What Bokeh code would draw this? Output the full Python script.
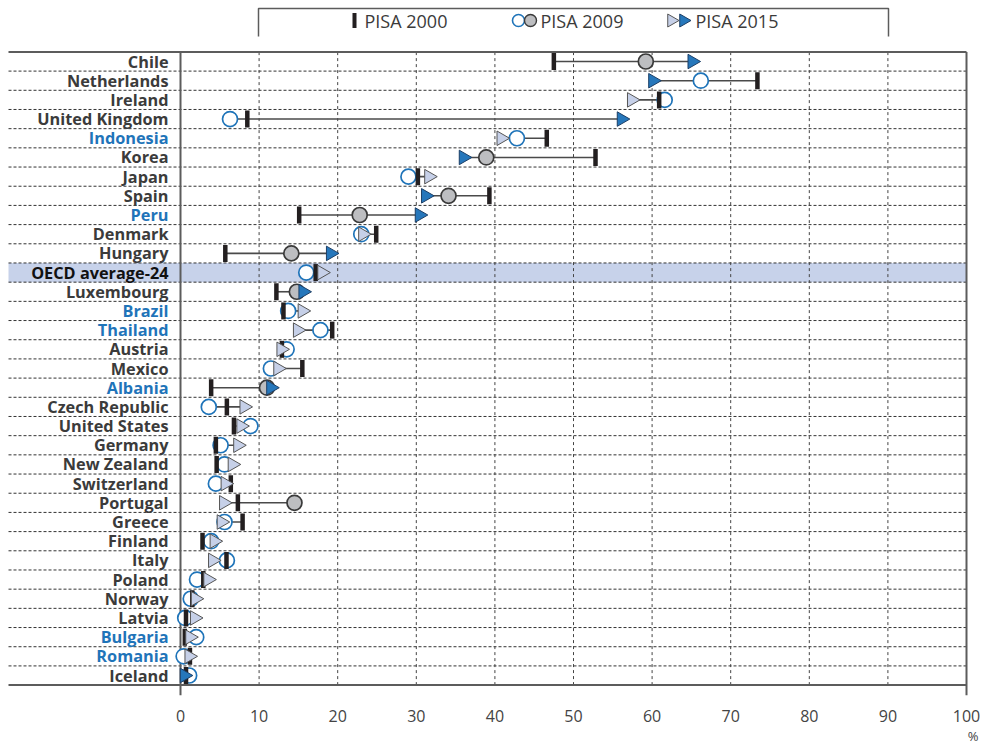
import numpy as np
from bokeh.plotting import figure
from bokeh.models import ColumnDataSource, Title
from bokeh.core.properties import value
from bokeh.embed import file_html
from bokeh.resources import INLINE

# --- data -------------------------------------------------------------------
countries = [
    "Chile", "Netherlands", "Ireland", "United Kingdom", "Indonesia", "Korea",
    "Japan", "Spain", "Peru", "Denmark", "Hungary", "OECD average-24",
    "Luxembourg", "Brazil", "Thailand", "Austria", "Mexico", "Albania",
    "Czech Republic", "United States", "Germany", "New Zealand", "Switzerland",
    "Portugal", "Greece", "Finland", "Italy", "Poland", "Norway", "Latvia",
    "Bulgaria", "Romania", "Iceland",
]
pisa2000 = [47.5, 73.4, 60.9, 8.5, 46.6, 52.8, 30.2, 39.3, 15.1, 24.9, 5.7, 17.2,
            12.2, 13.1, 19.3, 12.9, 15.5, 3.9, 5.9, 6.8, 4.5, 4.6, 6.4,
            7.3, 7.9, 2.8, 5.85, 2.9, 1.5, 0.7, 0.55, 1.2, 0.7]
pisa2009 = [59.2, 66.2, 61.6, 6.3, 42.8, 38.9, 29.0, 34.1, 22.8, 23.0, 14.1, 16.0,
            14.8, 13.7, 17.8, 13.5, 11.5, 11.0, 3.6, 8.9, 5.1, 5.6, 4.5,
            14.5, 5.6, 3.9, 5.9, 2.1, 1.3, 0.6, 2.0, 0.4, 1.1]
pisa2015 = [65.1, 60.1, 57.4, 56.1, 40.8, 36.0, 31.6, 31.2, 30.4, 23.2, 19.1, 18.0,
            15.6, 15.5, 14.9, 12.8, 12.4, 11.5, 8.1, 7.7, 7.3, 6.6, 5.7,
            5.5, 5.2, 4.3, 4.1, 3.5, 1.9, 1.8, 1.2, 1.1, 0.5]
# 1 = difference with PISA 2000 is statistically significant
sig2009 = [1, 0, 0, 0, 0, 1, 0, 1, 1, 0, 1, 0, 1, 0, 0, 0, 0, 1, 0, 0, 0, 0, 0,
           1, 0, 0, 0, 0, 0, 0, 0, 0, 0]
sig2015 = [1, 1, 0, 1, 0, 1, 0, 1, 1, 0, 1, 0, 1, 0, 0, 0, 0, 1, 0, 0, 0, 0, 0,
           0, 0, 0, 0, 0, 0, 0, 0, 0, 1]
partners = ["Indonesia", "Peru", "Brazil", "Thailand", "Albania", "Bulgaria", "Romania"]
average_row = "OECD average-24"
x_ticks = [0, 10, 20, 30, 40, 50, 60, 70, 80, 90, 100]
legend_labels = ["PISA 2000", "PISA 2009", "PISA 2015"]

# --- page geometry (pixels) ---------------------------------------------------
W, H, FRAME_H = 989, 745, 695
PX0, PX100 = 180.0, 966.0
SCALE = (PX100 - PX0) / 100.0
ROW0, ROW_STEP = 61.0, 19.1875
n = len(countries)


def dx(px):
    return (px - PX0) / SCALE


def dy(py):
    return (n - 1) - (py - ROW0) / ROW_STEP


ys = [n - 1 - i for i in range(n)]
x_left = dx(8)

# --- colours & fonts ------------------------------------------------------------
INK = "#3b3b3b"
FRAME = "#5c5c5c"
BLUE = "#1f74b9"
DARK_TRI = "#2677bb"
LIGHT_TRI = "#c6d0e8"
GREY_DOT = "#bdbec1"
BAR = "#231f20"
BAND = "#c7d2ea"
FONT = "Open Sans"

p = figure(width=W, height=H, x_range=(dx(0), dx(W)), y_range=(dy(FRAME_H), dy(0)),
           output_backend="svg", toolbar_location=None, y_axis_location=None,
           min_border_left=0, min_border_right=0, min_border_top=0,
           min_border_bottom=H - FRAME_H, outline_line_color=None,
           background_fill_color="white", border_fill_color="white")
p.xgrid.grid_line_color = None
p.ygrid.grid_line_color = None

# highlighted average row
y_avg = ys[countries.index(average_row)]
p.quad(left=x_left, right=100, bottom=y_avg - 0.5, top=y_avg + 0.5,
       fill_color=BAND, line_color=None)

# row separators
seps = [k + 0.5 for k in range(n - 1)]
p.segment(x0=[x_left] * len(seps), x1=[100] * len(seps), y0=seps, y1=seps,
          line_color="#333333", line_width=1, line_dash="3 2")
# vertical dashed grid
vg = [t for t in x_ticks if 0 < t < 100]
p.segment(x0=vg, x1=vg, y0=[-0.5] * len(vg), y1=[n - 0.5] * len(vg),
          line_color="#444444", line_width=1, line_dash="3 3")
# frame lines
p.segment(x0=[x_left, x_left], x1=[100, 100], y0=[n - 0.5, -0.5], y1=[n - 0.5, -0.5],
          line_color=FRAME, line_width=2)
p.segment(x0=[0, 100], x1=[0, 100], y0=[dy(FRAME_H)] * 2, y1=[n - 0.5] * 2,
          line_color=FRAME, line_width=2)

# range lines per country
lo = np.minimum(np.minimum(pisa2000, pisa2009), pisa2015)
hi = np.maximum(np.maximum(pisa2000, pisa2009), pisa2015)
p.segment(x0=lo, x1=hi, y0=ys, y1=ys, line_color="#4a4a4a", line_width=1.6)

# PISA 2009 circles
c_fill = [GREY_DOT if s else "white" for s in sig2009]
c_line = ["#3a3a3a" if s else BLUE for s in sig2009]
src09 = ColumnDataSource(dict(x=pisa2009, y=ys, fill=c_fill, line=c_line))
p.scatter("x", "y", source=src09, marker="circle", size=15, fill_color="fill",
          line_color="line", line_width=1.7)

# PISA 2000 bars
p.rect(x=pisa2000, y=ys, width=4.5, height=17, width_units="screen",
       height_units="screen", fill_color=BAR, line_color=None)

# PISA 2015 triangles (pointing right)
t_fill = [DARK_TRI if s else LIGHT_TRI for s in sig2015]
t_line = ["#1d3f66" if s else "#555555" for s in sig2015]
src15 = ColumnDataSource(dict(x=pisa2015, y=ys, fill=t_fill, line=t_line))
p.scatter("x", "y", source=src15, marker="triangle", size=14.5, angle=-np.pi / 2,
          fill_color="fill", line_color="line", line_width=1)

# country labels
name_color = [BLUE if c in partners else INK for c in countries]
others = [i for i, c in enumerate(countries) if c != average_row]
p.text(x=[dx(168)] * len(others), y=[ys[i] for i in others],
       text=[countries[i] for i in others], text_color=[name_color[i] for i in others],
       text_align="right", text_baseline="middle", text_font=value(FONT),
       text_font_size="16.3px", text_font_style="bold")
p.text(x=[dx(168)], y=[y_avg], text=[average_row], text_color="#111111",
       text_align="right", text_baseline="middle", text_font=value(FONT),
       text_font_size="16.3px", text_font_style="bold")

# legend box (open at the bottom) and entries
p.line(x=[dx(258), dx(258), dx(888), dx(888)], y=[dy(36), dy(8), dy(8), dy(36)],
       line_color=FRAME, line_width=1.5)
ly = dy(20)
p.rect(x=[dx(354)], y=[ly], width=4, height=15, width_units="screen",
       height_units="screen", fill_color=BAR, line_color=None)
p.scatter(x=[dx(518)], y=[ly], marker="circle", size=12, fill_color="white",
          line_color=BLUE, line_width=1.6)
p.scatter(x=[dx(530)], y=[ly], marker="circle", size=12, fill_color=GREY_DOT,
          line_color="#3a3a3a", line_width=1.4)
p.scatter(x=[dx(671)], y=[ly], marker="triangle", size=13, angle=-np.pi / 2,
          fill_color=LIGHT_TRI, line_color="#555555", line_width=1)
p.scatter(x=[dx(683)], y=[ly], marker="triangle", size=13, angle=-np.pi / 2,
          fill_color=DARK_TRI, line_color="#1d3f66", line_width=1)
p.text(x=[dx(364), dx(540), dx(695)], y=[ly] * 3, text=legend_labels,
       text_color=INK, text_align="left", text_baseline="middle",
       text_font=value(FONT), text_font_size="18px")

# x axis: tick labels only
ax = p.xaxis[0]
ax.ticker = x_ticks
ax.axis_line_color = None
ax.major_tick_line_color = None
ax.minor_tick_line_color = None
ax.major_label_standoff = 8
ax.major_label_text_font = FONT
ax.major_label_text_font_size = "16px"
ax.major_label_text_color = "#444444"

# unit marker under the right end of the axis
p.add_layout(Title(text="%", align="right", offset=11, standoff=0,
                   text_font=FONT, text_font_size="13px",
                   text_font_style="normal", text_color="#444444"), "below")

open("out.html", "w").write(file_html(p, INLINE))
